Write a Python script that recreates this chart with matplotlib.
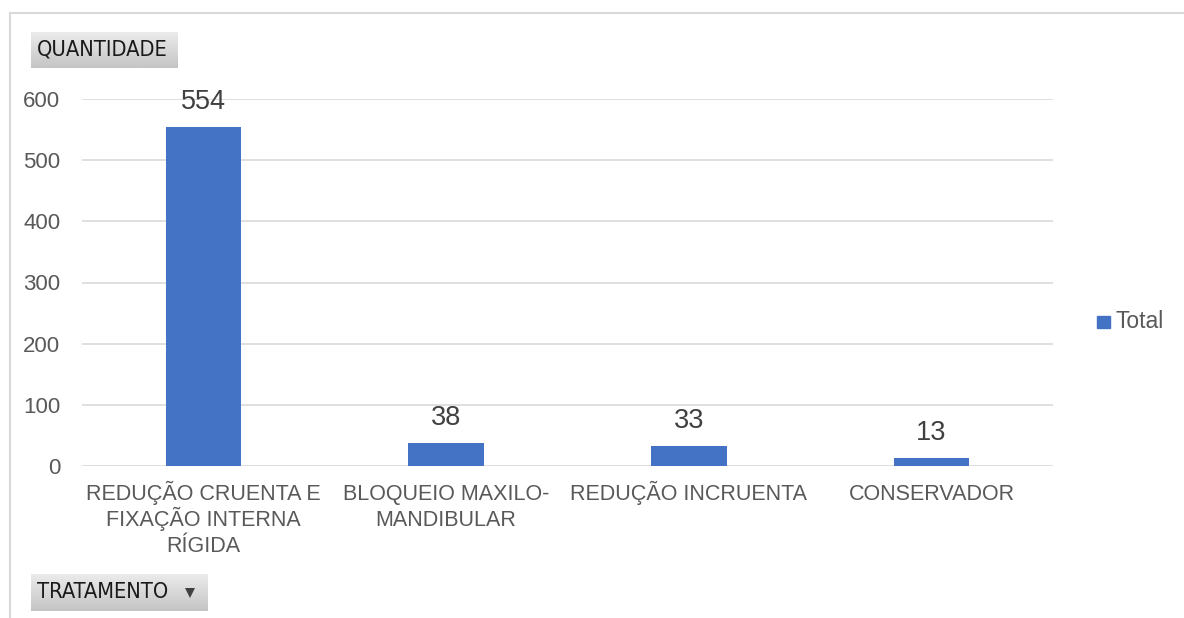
import numpy as np
import matplotlib
matplotlib.use("Agg")
import matplotlib.pyplot as plt
from matplotlib.lines import Line2D
from matplotlib.patches import Rectangle

# data
categories = ["REDUÇÃO CRUENTA E\nFIXAÇÃO INTERNA\nRÍGIDA", "BLOQUEIO MAXILO-\nMANDIBULAR",
              "REDUÇÃO INCRUENTA", "CONSERVADOR"]
values = [554, 38, 33, 13]
y_ticks = [0, 100, 200, 300, 400, 500, 600]
series_name = "Total"

W, H = 1184, 618
PT = 72 / 100  # points per pixel
plt.rcParams['font.family'] = ['Liberation Sans', 'DejaVu Sans']
fig = plt.figure(figsize=(W / 100, H / 100), dpi=100)


def px(x0, y0, x1, y1):
    # pixel box (top-left origin) -> figure fraction rect
    return [x0 / W, 1 - y1 / H, (x1 - x0) / W, (y1 - y0) / H]


# outer chart frame (top and left edges visible)
fig.add_artist(Line2D([10 / W, 1], [1 - 13 / H, 1 - 13 / H], transform=fig.transFigure,
                      color="#d9d9d9", lw=1.5))
fig.add_artist(Line2D([10 / W, 10 / W], [0, 1 - 13 / H], transform=fig.transFigure,
                      color="#d9d9d9", lw=1.5))

ax = fig.add_axes(px(82, 99, 1053, 466))
x = np.arange(len(values))
bars = ax.bar(x, values, width=0.31, color="#4472C4", zorder=3)
ax.set_xlim(-0.5, len(values) - 0.5)
ax.set_ylim(0, 600)
ax.set_yticks(y_ticks)
ax.set_xticks(x)
ax.set_xticklabels([])
ax.tick_params(axis='y', labelsize=16, labelcolor="#595959", length=0, pad=15.5)
ax.tick_params(axis='x', length=0)
for s in ax.spines.values():
    s.set_visible(False)
ax.grid(axis='y', color="#d9d9d9", lw=1.2, zorder=0)

# category labels, line by line so baselines line up
for xi, lab in zip(x, categories):
    for i, line in enumerate(lab.split("\n")):
        ax.annotate(line, (xi, 0), xytext=(0, -(34 + 26 * i) * PT), textcoords="offset points",
                    ha="center", va="baseline", fontsize=15.5, color="#595959",
                    annotation_clip=False)

for b, v in zip(bars, values):
    ax.annotate(str(v), (b.get_x() + b.get_width() / 2, v), xytext=(0, 8.7),
                textcoords="offset points", ha="center", va="bottom",
                fontsize=19.5, color="#404040")

# legend
fig.add_artist(Rectangle((1097 / W, 1 - 328 / H), 13 / W, 12 / H, transform=fig.transFigure,
                         color="#4472C4"))
fig.text(1116 / W, 1 - 328 / H, series_name, fontsize=16.5, color="#595959",
         va="baseline", ha="left")


def button(x0, y0, x1, y1, label, arrow=False):
    bax = fig.add_axes(px(x0, y0, x1, y1))
    grad = np.linspace(0.92, 0.77, 50).reshape(-1, 1)
    bax.imshow(grad, cmap="gray", vmin=0, vmax=1, aspect="auto", extent=[0, 1, 0, 1])
    bax.set_axis_off()
    bax.text(6 / (x1 - x0), 0.5, label, fontsize=15.7, color="#1a1a1a", va="center", ha="left",
             family=["DejaVu Sans"], fontstretch="condensed", transform=bax.transAxes)
    if arrow:
        ax_x = 1 - 18 / (x1 - x0)
        bax.plot([ax_x], [0.5], marker="v", color="#404040", ms=6.5, mew=0,
                 transform=bax.transAxes)


button(31, 32, 177, 68, "QUANTIDADE")
button(31, 574, 208, 611, "TRATAMENTO", arrow=True)

fig.savefig("out.png", dpi=100)
